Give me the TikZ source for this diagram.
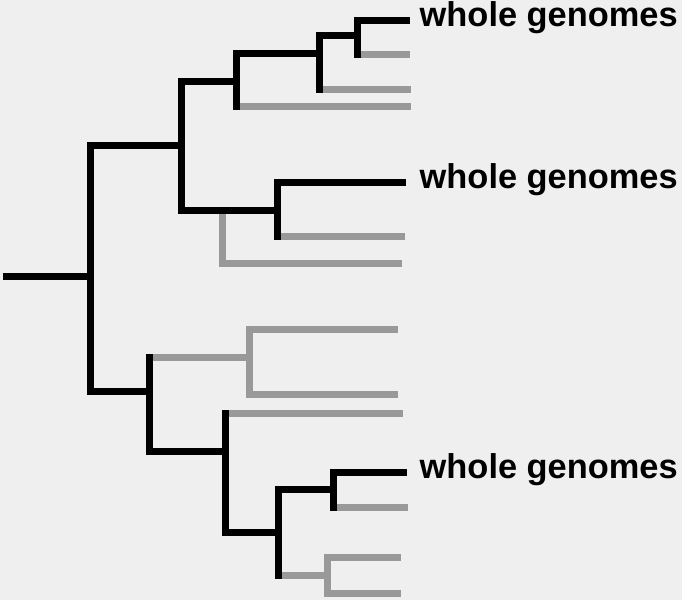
\documentclass[tikz,border=0pt]{standalone}
\usepackage{fontspec}
\setmainfont{Liberation Sans}
\definecolor{bgpanel}{RGB}{239,239,239}
\definecolor{branchgray}{RGB}{153,153,153}
\tikzset{
  sampled/.style={draw=black,line width=7pt,line cap=rect},
  unsampled/.style={draw=branchgray,line width=7pt,line cap=rect},
  genome/.style={font=\fontsize{34.4}{40}\selectfont\bfseries,text=black,inner sep=0pt,anchor=base west}
}

\begin{document}
\begin{tikzpicture}[x=1pt,y=-1pt]
\fill[bgpanel] (0,0) rectangle (682,600);
\useasboundingbox (0,0) rectangle (682,600);

% inner nodes, placed where the parent branch meets them
\coordinate (root) at (6.5,276);
\coordinate (A) at (90,276);
\coordinate (B) at (181,145);
\coordinate (C) at (236,81);
\coordinate (D) at (319,53);
\coordinate (E) at (357,35);
\coordinate (F) at (277,210);
\coordinate (Fg) at (222,210);
\coordinate (G) at (149,391);
\coordinate (H) at (249,357);
\coordinate (I) at (225,451);
\coordinate (J) at (278,532);
\coordinate (K) at (333,489);
\coordinate (L) at (327,575);

% tips
\coordinate (e1) at (406.5,20);
\coordinate (e2) at (406.5,54);
\coordinate (d2) at (407,89);
\coordinate (c2) at (407,106);
\coordinate (f1) at (402.5,182);
\coordinate (f2) at (401.5,236);
\coordinate (f3) at (398,263);
\coordinate (h1) at (394.5,329);
\coordinate (h2) at (394.5,394);
\coordinate (i1) at (399,413);
\coordinate (k1) at (403.5,472);
\coordinate (k2) at (404,507);
\coordinate (l1) at (397.5,557);
\coordinate (l2) at (397.5,593);
\coordinate (col) at (419.5,0);

% unsequenced lineages
\draw[unsampled] (H |- h1) -- (H |- h2);
\draw[unsampled] (L |- l1) -- (L |- l2);
\draw[unsampled] (Fg) -- (Fg |- f3);
\foreach \n/\c in {G/H,H/h1,H/h2,J/L,L/l1,L/l2,Fg/f3,C/c2,D/d2,E/e2,F/f2,I/i1,K/k2}
  \draw[unsampled] (\n |- \c) -- (\c);

% lineages leading to whole genomes
\draw[sampled] (root) -- (A);
\foreach \n/\t/\b in {A/B/G,B/C/F,C/D/c2,D/E/d2,E/e1/e2,F/f1/f2,G/H/I,I/i1/J,J/K/L,K/k1/k2}
  \draw[sampled] (\n |- \t) -- (\n |- \b);
\foreach \n/\c in {A/B,A/G,B/C,B/F,C/D,D/E,E/e1,F/f1,G/I,I/J,J/K,K/k1}
  \draw[sampled] (\n |- \c) -- (\c);

\node[genome,yshift=-6.5pt] (lab1) at (col |- e1) {whole genomes};
\node[genome,yshift=-6.5pt] (lab2) at (col |- f1) {whole genomes};
\node[genome,yshift=-6.5pt] (lab3) at (col |- k1) {whole genomes};

\end{tikzpicture}
\end{document}
